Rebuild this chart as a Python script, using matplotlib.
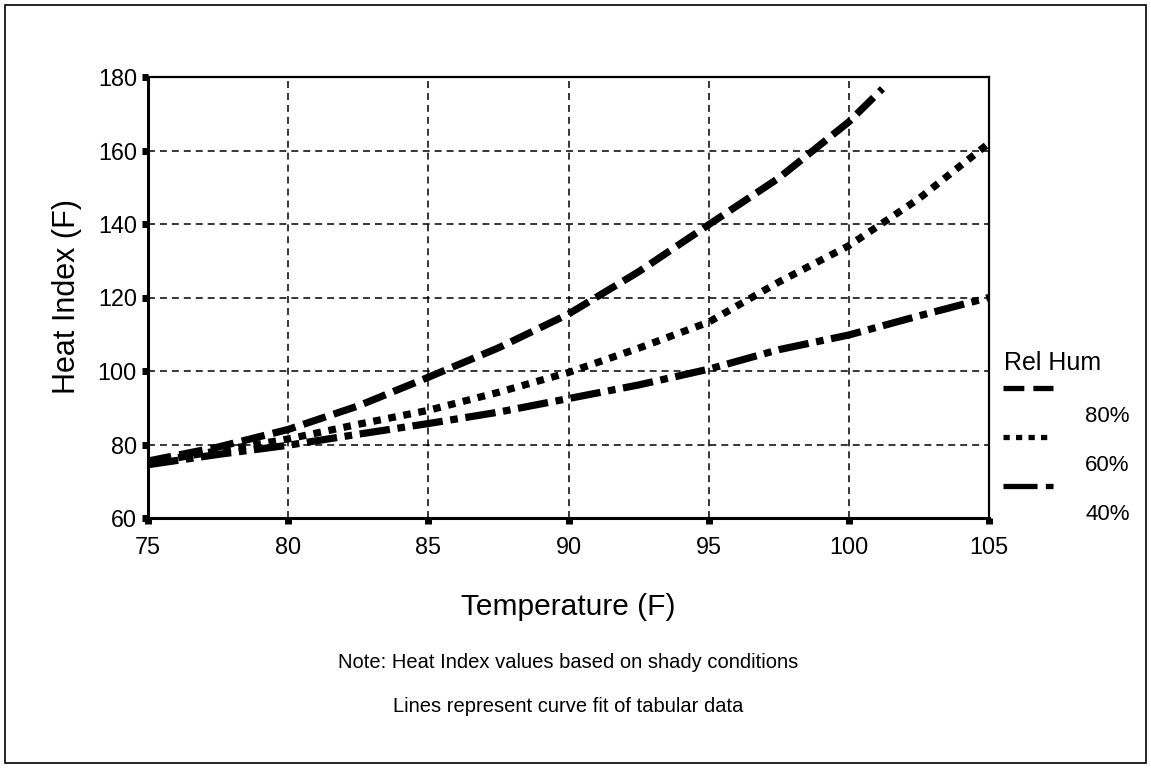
import matplotlib
matplotlib.use('Agg')
import matplotlib.pyplot as plt
from matplotlib.lines import Line2D
from matplotlib.patches import Rectangle

plt.rcParams['font.family'] = ['Liberation Sans', 'DejaVu Sans']
plt.rcParams['lines.scale_dashes'] = False

# heat index, every 2.5 F
temps = [75, 77.5, 80, 82.5, 85, 87.5, 90, 92.5, 95, 97.5, 100, 102.5, 105]
temps_80 = [75, 77.5, 80, 82.5, 85, 87.5, 90, 92.5, 95, 97.5, 100, 101.2]
hi_80 = [75.5, 79.3, 84.1, 90.5, 98.3, 106.3, 115.5, 127, 139.8, 152.5, 167.8, 176.8]
hi_60 = [75, 78.3, 81.5, 85.5, 89.3, 94.2, 99.6, 106.2, 113.3, 124.2, 134.1, 146.9, 162]
hi_40 = [74.5, 77.3, 79.8, 82.8, 85.7, 88.8, 92.5, 96.2, 100.5, 105.8, 109.8, 115, 120]

x_ticks = [75, 80, 85, 90, 95, 100, 105]
y_ticks = [60, 80, 100, 120, 140, 160, 180]
rh_labels = ['80%', '60%', '40%']

W, H = 1151, 769
fig = plt.figure(figsize=(W / 100, H / 100), dpi=100)

def fx(px):
    return px / W

def fy(py):
    return 1 - py / H

ax = fig.add_axes([fx(148), fy(518), fx(989) - fx(148), fy(77) - fy(518)])

styles = [(0, (17, 6)), (0, (5.5, 5.5)), (0, (22, 5.5, 5.5, 5.5))]
ax.plot(temps_80, hi_80, color='black', lw=5.2, linestyle=styles[0], dash_capstyle='butt', zorder=3)
ax.plot(temps, hi_60, color='black', lw=5.2, linestyle=styles[1], dash_capstyle='butt', zorder=3)
ax.plot(temps, hi_40, color='black', lw=5.2, linestyle=styles[2], dash_capstyle='butt', zorder=3)

ax.set_xlim(75, 105)
ax.set_ylim(60, 180)
ax.set_xticks(x_ticks)
ax.set_yticks(y_ticks)
ax.grid(True, color='black', lw=1.1, linestyle=(0, (5, 3.6)))
ax.set_axisbelow(True)
for s in ax.spines.values():
    s.set_linewidth(1.6)
ax.spines['left'].set_linewidth(2.2)
ax.spines['bottom'].set_linewidth(2.2)
ax.tick_params(axis='both', direction='out', length=4, width=5, labelsize=16.8, colors='black')
ax.tick_params(axis='x', pad=9)
ax.tick_params(axis='y', pad=4)
ax.tick_params(top=False, right=False)

fig.text(fx(67), fy(297), 'Heat Index (F)', rotation=90, ha='center', va='center', fontsize=22)
fig.text(fx(568), fy(607), 'Temperature (F)', ha='center', va='center', fontsize=21.5)
fig.text(fx(568), fy(663), 'Note: Heat Index values based on shady conditions', ha='center', va='center', fontsize=14.5)
fig.text(fx(568), fy(707), 'Lines represent curve fit of tabular data', ha='center', va='center', fontsize=14.5)

# legend drawn by hand: sample line, then label below and to the right
fig.text(fx(1004), fy(363), 'Rel Hum', ha='left', va='center', fontsize=18)
leg_y = [388, 437, 486]
leg_styles = [(0, (15, 6.5)), (0, (4.5, 4.5)), (0, (24.5, 6, 5.5, 20))]
for i in range(3):
    fig.add_artist(Line2D([fx(1003), fx(1053)], [fy(leg_y[i]), fy(leg_y[i])],
                          transform=fig.transFigure, color='black', lw=3.8,
                          linestyle=leg_styles[i], dash_capstyle='butt'))
    fig.text(fx(1085), fy(leg_y[i] + 28), rh_labels[i], ha='left', va='center', fontsize=16)

fig.add_artist(Rectangle((fx(5), fy(763)), fx(1146) - fx(5), fy(5) - fy(763),
                         transform=fig.transFigure, fill=False, edgecolor='black', lw=1.2))

fig.savefig('out.png', dpi=100)
